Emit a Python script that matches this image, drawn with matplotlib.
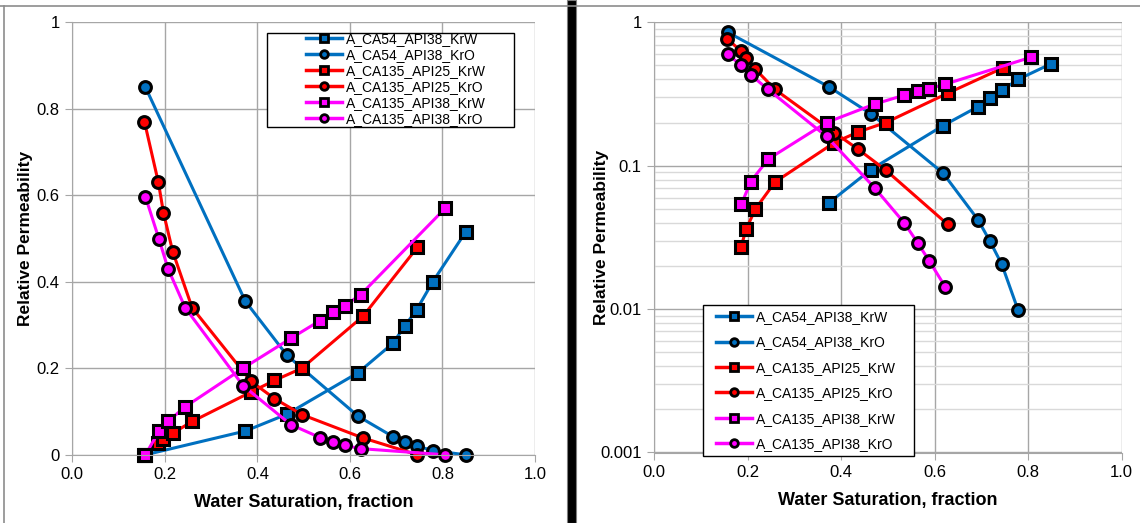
import matplotlib
matplotlib.use("Agg")
import matplotlib.pyplot as plt
import numpy as np
from matplotlib.lines import Line2D
from matplotlib.patches import Rectangle
from matplotlib.ticker import FixedLocator, FixedFormatter, LogLocator, NullFormatter

plt.rcParams["font.family"] = ["Liberation Sans", "DejaVu Sans"]

# ---- data ----
sw_ca54 = [0.158, 0.374, 0.464, 0.618, 0.693, 0.718, 0.744, 0.779, 0.850]
krw_ca54 = [0.0, 0.055, 0.094, 0.19, 0.258, 0.297, 0.335, 0.40, 0.515]
kro_ca54 = [0.85, 0.355, 0.23, 0.089, 0.042, 0.030, 0.0205, 0.0098, 0.0]

sw_ca135_25 = [0.156, 0.186, 0.197, 0.217, 0.259, 0.386, 0.437, 0.496, 0.628, 0.746]
krw_ca135_25 = [0.0, 0.027, 0.036, 0.050, 0.077, 0.145, 0.172, 0.20, 0.32, 0.48]
kro_ca135_25 = [0.77, 0.63, 0.56, 0.47, 0.34, 0.17, 0.13, 0.093, 0.039, 0.0]

sw_ca135_38 = [0.158, 0.187, 0.207, 0.244, 0.369, 0.472, 0.535, 0.564, 0.589, 0.623, 0.806]
krw_ca135_38 = [0.0, 0.054, 0.0775, 0.111, 0.20, 0.269, 0.31, 0.33, 0.345, 0.37, 0.57]
kro_ca135_38 = [0.597, 0.50, 0.43, 0.34, 0.16, 0.070, 0.040, 0.029, 0.0216, 0.0143, 0.0]

SERIES = [
    ("A_CA54_API38_KrW", sw_ca54, krw_ca54, "#0070C0", "s"),
    ("A_CA54_API38_KrO", sw_ca54, kro_ca54, "#0070C0", "o"),
    ("A_CA135_API25_KrW", sw_ca135_25, krw_ca135_25, "#FF0000", "s"),
    ("A_CA135_API25_KrO", sw_ca135_25, kro_ca135_25, "#FF0000", "o"),
    ("A_CA135_API38_KrW", sw_ca135_38, krw_ca135_38, "#FF00FF", "s"),
    ("A_CA135_API38_KrO", sw_ca135_38, kro_ca135_38, "#FF00FF", "o"),
]

W, H = 1140, 523
fig = plt.figure(figsize=(W / 100, H / 100), dpi=100)


def fx(px):
    return px / W


def fy(py):
    return 1 - py / H


ax1 = fig.add_axes([fx(72.3), fy(454.8), fx(535 - 72.3), (454.8 - 22.3) / H])
ax2 = fig.add_axes([fx(654), fy(452.5), fx(1121.5 - 654), (452.5 - 22.3) / H])

GRID = "#A6A6A6"


def style(ax, ylab_x):
    for s in ax.spines.values():
        s.set_visible(False)
    ax.spines["left"].set_visible(True)
    ax.spines["bottom"].set_visible(True)
    ax.spines["left"].set_color(GRID)
    ax.spines["bottom"].set_color(GRID)
    ax.tick_params(which="major", direction="out", length=5, color=GRID,
                   labelsize=12, pad=4)
    ax.set_xlim(0, 1)
    ax.set_xticks(np.arange(0, 1.01, 0.2))
    ax.set_xticklabels([f"{v:.1f}" for v in np.arange(0, 1.01, 0.2)])
    ax.grid(True, which="major", color=GRID, lw=1)
    ax.set_axisbelow(True)
    ax.set_xlabel("Water Saturation, fraction", fontsize=13, fontweight="bold")
    ax.set_ylabel("Relative Permeability", fontsize=12.5, fontweight="bold")
    ax.xaxis.set_label_coords(0.5, -0.091)
    ax.yaxis.set_label_coords(ylab_x, 0.5)


handles = []
for name, sw, kr, c, m in SERIES:
    ax1.plot(sw, kr, color=c, lw=2.2, marker=m, ms=8.5 if m == "o" else 8,
             mfc=c, mec="black", mew=2.2, clip_on=False)
    sw_a = np.array(sw)
    kr_a = np.array(kr)
    keep = kr_a > 0
    ax2.plot(sw_a[keep], kr_a[keep], color=c, lw=2.2, marker=m,
             ms=8.5 if m == "o" else 8, mfc=c, mec="black", mew=2.2, clip_on=False)
    handles.append(Line2D([], [], color=c, lw=2.5, marker=m, ms=5.5, mfc=c,
                          mec="black", mew=2, label=name))

style(ax1, -0.086)
ax1.set_ylim(0, 1)
ax1.set_yticks(np.arange(0, 1.01, 0.2))
ax1.set_yticklabels(["0", "0.2", "0.4", "0.6", "0.8", "1"])

style(ax2, -0.097)
ax2.set_yscale("log")
ax2.set_ylim(0.001, 1)
ax2.yaxis.set_major_locator(FixedLocator([0.001, 0.01, 0.1, 1]))
ax2.yaxis.set_major_formatter(FixedFormatter(["0.001", "0.01", "0.1", "1"]))
ax2.yaxis.set_minor_locator(LogLocator(base=10, subs=np.arange(2, 10)))
ax2.yaxis.set_minor_formatter(NullFormatter())
ax2.tick_params(which="minor", length=0)
ax2.grid(True, which="minor", axis="y", color="#D9D9D9", lw=1)

# legends (frames drawn separately to match the boxed layout)
fig.add_artist(Rectangle((fx(267), fy(127.3)), fx(514 - 267), (127.3 - 32.7) / H,
                         transform=fig.transFigure, fc="white", ec="black", lw=1, zorder=5))
leg1 = fig.legend(handles=handles, loc="upper left", bbox_to_anchor=(fx(306), fy(32)),
                  frameon=False, fontsize=10, borderpad=0, borderaxespad=0,
                  handlelength=2.6, handletextpad=0.3, labelspacing=0.14)
leg1.set_zorder(6)

fig.add_artist(Rectangle((fx(702.7), fy(455.7)), fx(914 - 702.7), (455.7 - 304.7) / H,
                         transform=fig.transFigure, fc="white", ec="black", lw=1, zorder=5))
leg2 = fig.legend(handles=handles, loc="upper left", bbox_to_anchor=(fx(716), fy(310)),
                  frameon=False, fontsize=10, borderpad=0, borderaxespad=0,
                  handlelength=2.6, handletextpad=0.3, labelspacing=0.82)
leg2.set_zorder(6)

# chart borders and the black separator between the two panels
fig.add_artist(Line2D([0, 1], [fy(5.5), fy(5.5)], transform=fig.transFigure, color="#8C8C8C", lw=1.2))
fig.add_artist(Line2D([fx(4), fx(4)], [0, fy(5.5)], transform=fig.transFigure, color="#8C8C8C", lw=1.2))
fig.add_artist(Rectangle((fx(567), 0), fx(8.5), 1, transform=fig.transFigure,
                         fc="black", ec="#7F7F7F", lw=0.8))

fig.savefig("out.png", dpi=100)
